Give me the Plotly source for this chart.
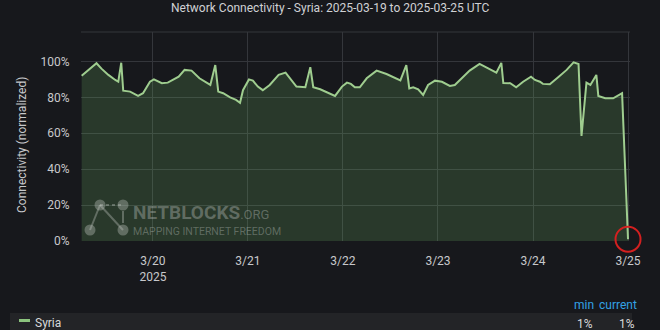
import plotly.graph_objects as go

# ---- data ----
times = [
    "2025-03-19 06:00", "2025-03-19 09:45", "2025-03-19 11:00", "2025-03-19 12:45",
    "2025-03-19 14:30", "2025-03-19 15:15", "2025-03-19 16:00", "2025-03-19 16:30",
    "2025-03-19 18:15", "2025-03-19 20:15", "2025-03-19 21:30", "2025-03-19 23:15",
    "2025-03-20 00:15", "2025-03-20 02:15", "2025-03-20 03:45", "2025-03-20 06:30",
    "2025-03-20 08:00", "2025-03-20 09:45", "2025-03-20 11:45", "2025-03-20 14:30",
    "2025-03-20 15:45", "2025-03-20 16:30", "2025-03-20 17:45", "2025-03-20 19:30",
    "2025-03-20 21:00", "2025-03-20 22:00", "2025-03-20 22:45", "2025-03-21 00:15",
    "2025-03-21 01:15", "2025-03-21 02:30", "2025-03-21 03:45", "2025-03-21 05:30",
    "2025-03-21 07:45", "2025-03-21 09:30", "2025-03-21 12:15", "2025-03-21 14:30",
    "2025-03-21 15:45", "2025-03-21 16:30", "2025-03-21 18:15", "2025-03-21 20:15",
    "2025-03-21 22:00", "2025-03-21 23:45", "2025-03-22 01:00", "2025-03-22 02:00",
    "2025-03-22 03:00", "2025-03-22 04:15", "2025-03-22 06:00", "2025-03-22 08:30",
    "2025-03-22 11:00", "2025-03-22 14:30", "2025-03-22 16:00", "2025-03-22 16:45",
    "2025-03-22 17:45", "2025-03-22 19:00", "2025-03-22 20:15", "2025-03-22 21:30",
    "2025-03-22 23:15", "2025-03-23 01:00", "2025-03-23 03:00", "2025-03-23 04:15",
    "2025-03-23 06:00", "2025-03-23 08:00", "2025-03-23 10:30", "2025-03-23 12:15",
    "2025-03-23 14:45", "2025-03-23 16:00", "2025-03-23 16:30", "2025-03-23 18:15",
    "2025-03-23 19:45", "2025-03-23 21:30", "2025-03-23 23:30", "2025-03-24 00:30",
    "2025-03-24 01:45", "2025-03-24 02:30", "2025-03-24 04:15", "2025-03-24 06:30",
    "2025-03-24 08:30", "2025-03-24 10:15", "2025-03-24 11:30", "2025-03-24 12:15",
    "2025-03-24 13:30", "2025-03-24 14:30", "2025-03-24 16:00", "2025-03-24 16:30",
    "2025-03-24 18:15", "2025-03-24 20:15", "2025-03-24 21:15", "2025-03-24 22:30",
    "2025-03-25 00:00",
]
syria = [
    92, 99, 96, 92.5,
    89.7, 88.7, 99.3, 83.7,
    83.2, 80.8, 82.3, 88.7,
    90, 87.9, 88.2, 91.5,
    95.3, 94.9, 90.6, 86.9,
    98, 83.2, 82.3, 80,
    78.6, 77, 84, 90,
    89.3, 86, 84, 86.9,
    92.5, 93.8, 86, 85.6,
    96.8, 85.6, 84.5, 82.6,
    80.8, 86, 88.2, 87.5,
    85.6, 85.6, 90.6, 94.9,
    93, 89.5, 98, 85,
    85.6, 84.5, 81.3, 86.9,
    89.3, 88.7, 86.4, 86.9,
    90.6, 94.9, 98.6, 96.8,
    93.8, 99.2, 88, 87.9,
    85.6, 88.7, 91.5, 89.7,
    88.7, 87.5, 87.3, 91.5,
    95.3, 99.5, 98.6, 58.5,
    88.2, 86.9, 92.5, 80.8,
    79.5, 79.5, 80.8, 82.3,
    1,
]
tick_dates = ["2025-03-20", "2025-03-21", "2025-03-22", "2025-03-23", "2025-03-24", "2025-03-25"]
tick_labels = ["3/20<br>2025", "3/21", "3/22", "3/23", "3/24", "3/25"]
y_ticks = [0, 20, 40, 60, 80, 100]
y_labels = ["0%", "20%", "40%", "60%", "80%", "100%"]

BG = "#17181c"
GRID = "#34363b"
TXT = "#c7c8cb"
LINE = "#9fcd8f"

fig = go.Figure()
fig.add_trace(go.Scatter(
    x=times, y=syria, mode="lines", name="Syria",
    line=dict(color=LINE, width=2),
    fill="tozeroy", fillcolor="rgba(115,191,105,0.20)",
    hoverinfo="skip",
))
# red highlight circle on last point
fig.add_trace(go.Scatter(
    x=[times[-1]], y=[syria[-1]], mode="markers",
    marker=dict(size=25, color="rgba(0,0,0,0)", line=dict(color="#d42020", width=2)),
    cliponaxis=False, hoverinfo="skip", showlegend=False,
))

fig.update_layout(
    width=660, height=330,
    margin=dict(l=81, r=30, t=32, b=89),
    paper_bgcolor=BG, plot_bgcolor=BG,
    showlegend=False,
    font=dict(family="Roboto, Liberation Sans, sans-serif", color=TXT, size=12),
    xaxis=dict(
        type="date",
        range=["2025-03-19 05:50", "2025-03-25 00:30"],
        tickvals=tick_dates, ticktext=tick_labels,
        showgrid=True, gridcolor=GRID, gridwidth=1,
        zeroline=False, showline=False,
        ticks="outside", ticklen=9, tickcolor="rgba(0,0,0,0)",
        tickfont=dict(size=12, color=TXT),
    ),
    yaxis=dict(
        range=[0, 116.4],
        tickvals=y_ticks, ticktext=y_labels,
        showgrid=True, gridcolor=GRID, gridwidth=1,
        zeroline=False, showline=False,
        ticks="outside", ticklen=8, tickcolor="rgba(0,0,0,0)",
        tickfont=dict(size=12, color=TXT),
    ),
)

shapes = [
    # top border line of plot
    dict(type="line", xref="paper", yref="paper", x0=0, x1=1, y0=1, y1=1,
         line=dict(color=GRID, width=1), layer="below"),
    # legend band
    dict(type="rect", xref="paper", yref="paper",
         x0=-71 / 549, x1=(632 - 81) / 549, y0=-89 / 209, y1=-72 / 209,
         fillcolor="#232427", line=dict(width=0), layer="below"),
    # legend swatch
    dict(type="rect", xref="paper", yref="paper",
         x0=-62 / 549, x1=-51 / 549, y0=-81 / 209, y1=-78 / 209,
         fillcolor="#8cc47e", line=dict(width=0)),
]

# watermark icon (decoration, paper coordinates in px relative to plot)
def px(x, y):
    return (x - 81) / 549, (241 - y) / 209

wm = "rgba(190,195,190,0.38)"
for (a, b) in [((100, 205), (123, 205)), ((100, 205), (123, 230)), ((100, 205), (90, 230)), ((123, 211), (123, 223))]:
    x0, y0 = px(*a)
    x1, y1 = px(*b)
    shapes.append(dict(type="line", xref="paper", yref="paper", x0=x0, y0=y0, x1=x1, y1=y1,
                       line=dict(color=wm, width=2, dash="dot" if a == (100, 205) and b == (123, 205) else "solid")))
for (cx, cy) in [(100, 205), (123, 205), (90, 230), (123, 230)]:
    x0, y0 = px(cx - 5.5, cy + 5.5)
    x1, y1 = px(cx + 5.5, cy - 5.5)
    shapes.append(dict(type="circle", xref="paper", yref="paper", x0=x0, y0=y0, x1=x1, y1=y1,
                       fillcolor=wm, line=dict(width=0)))
fig.update_layout(shapes=shapes)

ann = []
ann.append(dict(text="Network Connectivity - Syria: 2025-03-19 to 2025-03-25 UTC",
                xref="paper", yref="paper", x=(330 - 81) / 549, y=(241 - 8) / 209,
                xanchor="center", yanchor="middle", showarrow=False,
                font=dict(size=12, color="#d0d1d4")))
ann.append(dict(text="Connectivity (normalized)", xref="paper", yref="paper",
                x=(22 - 81) / 549, y=(241 - 145) / 209, textangle=-90,
                xanchor="center", yanchor="middle", showarrow=False,
                font=dict(size=12, color=TXT)))
wx, wy = px(131, 212)
ann.append(dict(text="<b>NETBLOCKS</b><span style='font-size:13px'>.ORG</span>",
                xref="paper", yref="paper", x=wx, y=wy,
                xanchor="left", yanchor="middle", showarrow=False,
                font=dict(size=19, color=wm, family="Roboto, Liberation Sans")))
wx, wy = px(131, 231)
ann.append(dict(text="MAPPING INTERNET FREEDOM", xref="paper", yref="paper", x=wx, y=wy,
                xanchor="left", yanchor="middle", showarrow=False,
                font=dict(size=10.5, color=wm, family="Roboto, Liberation Sans")))
# legend texts
lx, ly = px(33, 323)
ann.append(dict(text="Syria", xref="paper", yref="paper", x=lx, y=ly, xanchor="left", yanchor="middle",
                showarrow=False, font=dict(size=12, color="#d8d9da")))
for label, xc in [("min", 584), ("current", 618)]:
    ax, ay = px(xc, 305)
    ann.append(dict(text=label, xref="paper", yref="paper", x=ax, y=ay, xanchor="center", yanchor="middle",
                    showarrow=False, font=dict(size=12, color="#33a2e5")))
for xc in [585, 627]:
    ax, ay = px(xc, 324)
    ann.append(dict(text=f"{syria[-1]:.0f}%", xref="paper", yref="paper", x=ax, y=ay, xanchor="center",
                    yanchor="middle", showarrow=False, font=dict(size=12, color="#d8d9da")))
fig.update_layout(annotations=ann)

fig.write_html("out.html")
